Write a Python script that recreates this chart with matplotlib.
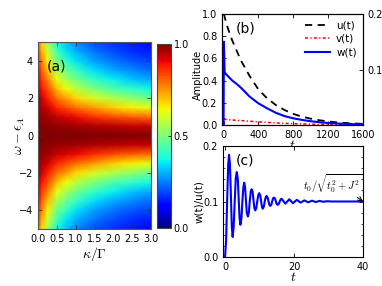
import numpy as np
import matplotlib
matplotlib.use("Agg")
import matplotlib.pyplot as plt

plt.rcParams['font.family'] = ['DejaVu Sans']
plt.rcParams['mathtext.fontset'] = 'cm'
plt.rcParams['xtick.direction'] = 'in'
plt.rcParams['ytick.direction'] = 'in'
plt.rcParams['xtick.labelsize'] = 7
plt.rcParams['ytick.labelsize'] = 7

# ---------------- panel (a): heatmap values (read, upper half; symmetric in omega)
kappa = [0.0, 0.1, 0.25, 0.5, 0.75, 1.0, 1.5, 2.0, 2.5, 3.0]
omega_pos = [0.0, 0.5, 1.0, 1.5, 2.0, 2.5, 3.0, 3.5, 4.0, 4.5, 5.0]
amp_rows = [
    [1.00, 1.00, 1.00, 1.00, 1.00, 1.00, 1.00, 1.00, 1.00, 1.00],  # omega 0
    [1.00, 0.99, 0.99, 0.98, 0.98, 0.97, 0.96, 0.95, 0.94, 0.94],  # 0.5
    [0.99, 0.98, 0.97, 0.94, 0.92, 0.90, 0.86, 0.83, 0.81, 0.79],  # 1.0
    [0.98, 0.96, 0.93, 0.87, 0.83, 0.79, 0.74, 0.69, 0.65, 0.62],  # 1.5
    [0.97, 0.93, 0.88, 0.79, 0.74, 0.68, 0.61, 0.56, 0.52, 0.48],  # 2.0
    [0.95, 0.89, 0.83, 0.71, 0.64, 0.58, 0.50, 0.44, 0.41, 0.37],  # 2.5
    [0.93, 0.85, 0.77, 0.63, 0.55, 0.49, 0.41, 0.36, 0.32, 0.29],  # 3.0
    [0.90, 0.81, 0.71, 0.56, 0.48, 0.42, 0.34, 0.29, 0.26, 0.23],  # 3.5
    [0.87, 0.77, 0.65, 0.49, 0.41, 0.35, 0.28, 0.24, 0.21, 0.19],  # 4.0
    [0.85, 0.72, 0.60, 0.43, 0.35, 0.30, 0.24, 0.20, 0.17, 0.15],  # 4.5
    [0.82, 0.68, 0.55, 0.38, 0.31, 0.26, 0.20, 0.17, 0.15, 0.13],  # 5.0
]
cbar_ticks = [0.0, 0.5, 1.0]

# ---------------- panel (b)
t_b = [0, 4, 12, 25, 50, 100, 150, 200, 300, 400, 500, 600, 700, 800,
       900, 1000, 1100, 1200, 1300, 1400, 1500, 1600]
u_t = [1.0, 1.0, 0.975, 0.935, 0.87, 0.76, 0.67, 0.58, 0.44, 0.32, 0.24, 0.18,
       0.135, 0.10, 0.075, 0.057, 0.043, 0.032, 0.024, 0.018, 0.014, 0.010]
v_t = [0.0, 0.07, 0.055, 0.05, 0.048, 0.045, 0.042, 0.04, 0.034, 0.028, 0.023,
       0.019, 0.015, 0.012, 0.009, 0.007, 0.005, 0.004, 0.003, 0.002, 0.002, 0.001]
w_t = [0.0, 0.15, 0.096, 0.092, 0.088, 0.080, 0.074, 0.067, 0.051, 0.039, 0.030,
       0.022, 0.016, 0.012, 0.0092, 0.0068, 0.005, 0.0036, 0.0026, 0.002, 0.0014, 0.001]

# ---------------- panel (c)
t_c = [0.0, 0.3, 0.6, 0.9, 1.15, 1.4, 1.7, 1.95, 2.2, 2.5, 2.8, 3.1, 3.4, 3.7,
       3.95, 4.2, 4.45, 4.75, 5.0, 5.3, 5.55, 5.8, 6.05, 6.3, 6.6, 6.9, 7.15,
       7.45, 7.7, 8.0, 8.25, 8.5, 8.75, 9.05, 9.35, 9.65, 9.9, 10.2, 10.45,
       10.7, 10.95, 11.25, 11.5, 11.8, 12.05, 12.35, 12.6, 12.85, 13.1, 13.4,
       13.65, 13.95, 14.2, 14.5, 14.75, 15.0, 15.3, 15.6, 15.85, 16.15, 16.4,
       17.5, 18.6, 19.7, 20.8, 21.9, 23.0, 24.1, 25.2, 26.3, 27.4, 28.5, 29.6,
       31.0, 40.0]
ratio_c = [0.000, 0.030, 0.100, 0.165, 0.184, 0.168, 0.110, 0.055, 0.036, 0.055,
           0.100, 0.142, 0.153, 0.140, 0.105, 0.070, 0.058, 0.070, 0.098, 0.126,
           0.134, 0.126, 0.102, 0.080, 0.073, 0.080, 0.100, 0.118, 0.122, 0.117,
           0.102, 0.088, 0.084, 0.088, 0.101, 0.112, 0.115, 0.111, 0.101, 0.090,
           0.087, 0.091, 0.100, 0.108, 0.110, 0.107, 0.100, 0.094, 0.092, 0.094,
           0.100, 0.106, 0.107, 0.105, 0.100, 0.095, 0.094, 0.096, 0.100, 0.104,
           0.105, 0.096, 0.104, 0.097, 0.103, 0.098, 0.102, 0.0985, 0.1015, 0.099,
           0.101, 0.0995, 0.1005, 0.100, 0.100]

W, H = 382, 286
fig = plt.figure(figsize=(W / 100, H / 100), dpi=100)

def box(x0, y0, x1, y1):
    return [x0 / W, 1 - y1 / H, (x1 - x0) / W, (y1 - y0) / H]

# ---- (a)
axa = fig.add_axes(box(38, 42, 151, 229))
om_full = [-o for o in omega_pos[::-1]] + omega_pos[1:]
rows = np.array(amp_rows)
Z = np.vstack([rows[::-1], rows[1:]])
K, O = np.meshgrid(kappa, om_full)
mesh = axa.pcolormesh(K, O, Z, cmap='jet', vmin=0, vmax=1, shading='gouraud')
axa.set_xlim(0, 3)
axa.set_ylim(-5, 5)
axa.set_xticks([0.0, 0.5, 1.0, 1.5, 2.0, 2.5, 3.0])
axa.set_xticklabels(['0.0', '0.5', '1.0', '1.5', '2.0', '2.5', '3.0'])
axa.set_yticks([-4, -2, 0, 2, 4])
axa.tick_params(top=True, right=True, length=3, width=0.6, color='#333333')
axa.set_xlabel(r'$\kappa/\Gamma$', fontsize=10, labelpad=1)
axa.set_ylabel(r'$\omega-\epsilon_A$', fontsize=10)
axa.yaxis.set_label_coords(-0.10, 0.5)
axa.text(0.08, 0.85, '(a)', transform=axa.transAxes, fontsize=10)
for s in axa.spines.values():
    s.set_color('#555555')

cax = fig.add_axes(box(157, 44, 171, 228))
cb = fig.colorbar(mesh, cax=cax, ticks=cbar_ticks)
cb.ax.set_yticklabels(['0.0', '0.5', '1.0'])
cb.ax.tick_params(length=2, width=0.6, labelsize=7, pad=2)
cb.outline.set_edgecolor('#444444')
cb.outline.set_linewidth(0.8)

# ---- (b)
axb = fig.add_axes(box(222, 14, 363, 125))
l1, = axb.plot(t_b, u_t, color='black', ls=(0, (4, 3)), lw=1.3, label='u(t)')
l2, = axb.plot(t_b, v_t, color='red', ls=(0, (2, 1.5, 0.8, 1.5)), lw=1.1,
               label='v(t)', zorder=3)
axb.set_xlim(-18, 1600)
axb.set_ylim(0, 1.0)
axb.set_xticks([0, 400, 800, 1200, 1600])
axb.set_yticks([0.0, 0.2, 0.4, 0.6, 0.8, 1.0])
axb.set_yticklabels(['0.0', '0.2', '0.4', '0.6', '0.8', '1.0'])
axb.tick_params(top=True, length=3, width=0.6)
axb.set_ylabel('Amplitude', fontsize=7)
axb.yaxis.set_label_coords(-0.135, 0.45)
axb.set_xlabel(r'$t$', fontsize=10, labelpad=-1)
axb.text(0.1, 0.83, '(b)', transform=axb.transAxes, fontsize=10)
axb2 = axb.twinx()
l3, = axb2.plot(t_b, w_t, color='blue', lw=1.5, label='w(t)', zorder=3)
axb2.set_ylim(0, 0.2)
axb2.set_yticks([0.0, 0.1, 0.2])
axb2.set_yticklabels(['', '0.1', '0.2'])
axb2.tick_params(length=3, width=0.6, labelsize=7)
axb.legend(handles=[l1, l2, l3], frameon=False, fontsize=7.5, loc='upper right',
           bbox_to_anchor=(1.0, 1.0), handlelength=2.4, labelspacing=0.35,
           handletextpad=0.6, borderaxespad=0.2)

# ---- (c)
axc = fig.add_axes(box(223, 146, 363, 257))
axc.plot(t_c, ratio_c, color='blue', lw=1.5)
axc.set_xlim(-0.6, 40)
axc.set_ylim(0, 0.2)
axc.set_xticks([0, 20, 40])
axc.set_yticks([0.0, 0.1, 0.2])
axc.set_yticklabels(['0.0', '0.1', '0.2'])
axc.set_yticks(np.arange(0, 0.2, 0.02), minor=True)
axc.tick_params(top=True, right=True, length=3, width=0.6)
axc.tick_params(which='minor', left=True, right=True, length=1.5, width=0.5)
axc.set_ylabel('w(t)/u(t)', fontsize=7.5)
axc.yaxis.set_label_coords(-0.136, 0.5)
axc.set_xlabel(r'$t$', fontsize=10, labelpad=-1)
axc.text(0.09, 0.83, '(c)', transform=axc.transAxes, fontsize=10)
axc.annotate(r'$t_0/\sqrt{t_0^2+J^2}$', xy=(40, 0.1), xytext=(22.6, 0.133),
             fontsize=7.5, ha='left', va='center',
             arrowprops=dict(arrowstyle='->', color='black', lw=0.7,
                             relpos=(0.85, 0.0), shrinkA=0, shrinkB=0))

fig.savefig('out.png', dpi=100)
